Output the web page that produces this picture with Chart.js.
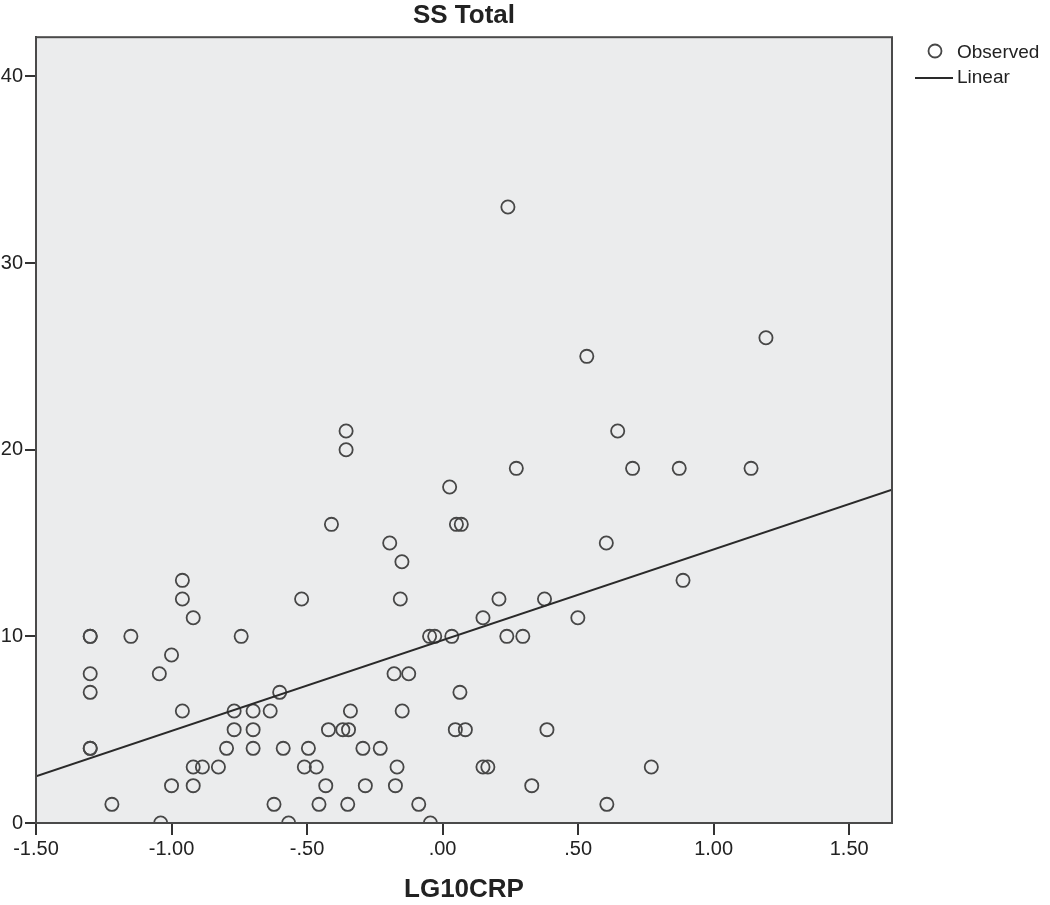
<!DOCTYPE html>
<html>
<head>
<meta charset="utf-8">
<script src="https://cdn.jsdelivr.net/npm/chart.js@4.4.1/dist/chart.umd.min.js"></script>
<style>
  html, body { margin: 0; padding: 0; background: #ffffff; }
  #wrap { width: 1050px; height: 905px; position: relative; }
</style>
</head>
<body>
<div id="wrap"><canvas id="c" width="1050" height="905"></canvas></div>
<script>
// ---- data ----
const chartTitle = 'SS Total';
const xAxisTitle = 'LG10CRP';
const obsX = [
  -1.30, -1.30, -1.30, -1.30, -1.30, -1.30,
  -1.22, -1.15, -1.045, -1.04, -1.00, -1.00,
  -0.96, -0.96, -0.96, -0.92, -0.92, -0.92,
  -0.886, -0.827, -0.797, -0.769, -0.769, -0.743,
  -0.699, -0.699, -0.699, -0.636, -0.622, -0.601,
  -0.588, -0.568, -0.52, -0.51, -0.495, -0.466,
  -0.456, -0.431, -0.421, -0.410, -0.368, -0.356,
  -0.356, -0.347, -0.35, -0.34, -0.294, -0.285,
  -0.230, -0.195, -0.179, -0.174, -0.168, -0.156,
  -0.150, -0.149, -0.125, -0.088, -0.048, -0.045,
  -0.029, 0.026, 0.034, 0.047, 0.051, 0.064,
  0.069, 0.084, 0.149, 0.149, 0.167, 0.208,
  0.237, 0.241, 0.272, 0.296, 0.329, 0.376,
  0.385, 0.499, 0.532, 0.604, 0.606, 0.646,
  0.701, 0.77, 0.873, 0.887, 1.138, 1.193
];
const obsY = [
  10, 10, 8, 7, 4, 4,
  1, 10, 8, 0, 9, 2,
  13, 12, 6, 11, 3, 2,
  3, 3, 4, 6, 5, 10,
  6, 5, 4, 6, 1, 7,
  4, 0, 12, 3, 4, 3,
  1, 2, 5, 16, 5, 21,
  20, 5, 1, 6, 4, 2,
  4, 15, 8, 2, 3, 12,
  14, 6, 8, 1, 10, 0,
  10, 18, 10, 5, 16, 7,
  16, 5, 11, 3, 3, 12,
  10, 33, 19, 10, 2, 12,
  5, 11, 25, 15, 1, 21,
  19, 3, 19, 13, 19, 26
];
// fitted line end points
const linearX = [-1.5, 1.658];
const linearY = [2.50, 17.86];
// axes
const xTickValues = [-1.5, -1.0, -0.5, 0, 0.5, 1.0, 1.5];
const xTickLabels = ['-1.50', '-1.00', '-.50', '.00', '.50', '1.00', '1.50'];
const yTickValues = [0, 10, 20, 30, 40];
const yTickLabels = ['0', '10', '20', '30', '40'];
const xRange = [-1.5, 1.658];
const yRange = [0, 42.1];
const legendLabels = ['Observed', 'Linear'];

// ---- styling ----
const FONT = '"Liberation Sans", Arial, sans-serif';
const INK = '#222222';
const MARK = '#474747';
const PLOT_BG = '#ebeced';

const frameAndBg = {
  id: 'frameAndBg',
  beforeDatasetsDraw(chart) {
    const {ctx, chartArea: a} = chart;
    ctx.save();
    ctx.fillStyle = PLOT_BG;
    ctx.fillRect(a.left, a.top, a.right - a.left, a.bottom - a.top);
    ctx.restore();
  },
  afterDatasetsDraw(chart) {
    const {ctx, chartArea: a} = chart;
    ctx.save();
    ctx.strokeStyle = '#4a4a4a';
    ctx.lineWidth = 2;
    ctx.strokeRect(a.left, a.top, a.right - a.left, a.bottom - a.top);
    ctx.restore();
  }
};

const customLegend = {
  id: 'customLegend',
  afterDraw(chart) {
    const ctx = chart.ctx;
    ctx.save();
    ctx.font = '19px ' + FONT;
    ctx.fillStyle = INK;
    ctx.textBaseline = 'middle';
    ctx.textAlign = 'left';
    // Observed marker
    ctx.beginPath();
    ctx.arc(935, 51, 6.5, 0, Math.PI * 2);
    ctx.strokeStyle = MARK;
    ctx.lineWidth = 1.8;
    ctx.stroke();
    ctx.fillText(legendLabels[0], 957, 53);
    // Linear marker
    ctx.beginPath();
    ctx.moveTo(915, 78);
    ctx.lineTo(953, 78);
    ctx.strokeStyle = '#2a2a2a';
    ctx.lineWidth = 2;
    ctx.stroke();
    ctx.fillText(legendLabels[1], 957, 78);
    ctx.restore();
  }
};

const ctx = document.getElementById('c').getContext('2d');
new Chart(ctx, {
  type: 'scatter',
  data: {
    datasets: [
      {
        label: legendLabels[0],
        data: obsX.map((x, i) => ({x: x, y: obsY[i]})),
        pointStyle: 'circle',
        pointRadius: 6.6,
        pointBorderWidth: 1.8,
        pointBorderColor: MARK,
        pointBackgroundColor: 'rgba(0,0,0,0)',
        pointHoverRadius: 6.6,
        clip: 0,
        order: 2
      },
      {
        type: 'line',
        label: legendLabels[1],
        data: linearX.map((x, i) => ({x: x, y: linearY[i]})),
        borderColor: '#2a2a2a',
        borderWidth: 2,
        pointRadius: 0,
        fill: false,
        clip: 0,
        order: 1
      }
    ]
  },
  options: {
    responsive: false,
    animation: false,
    devicePixelRatio: 1,
    layout: { padding: { left: 0, right: 158, top: 0, bottom: 0 } },
    plugins: {
      legend: { display: false },
      tooltip: { enabled: false },
      title: {
        display: true,
        fullSize: false,
        text: chartTitle,
        color: INK,
        font: { family: FONT, size: 26, weight: 'bold' },
        padding: { top: 0, bottom: 6 }
      }
    },
    scales: {
      x: {
        type: 'linear',
        min: xRange[0],
        max: xRange[1],
        afterBuildTicks(scale) { scale.ticks = xTickValues.map(v => ({value: v})); },
        afterFit(scale) { scale.height = 82; },
        ticks: {
          color: INK,
          font: { family: FONT, size: 20 },
          padding: 2,
          maxRotation: 0,
          autoSkip: false,
          callback(v) { const i = xTickValues.indexOf(v); return i >= 0 ? xTickLabels[i] : ''; }
        },
        grid: { display: true, drawOnChartArea: false, drawTicks: true, tickLength: 12, color: '#333', lineWidth: 2 },
        border: { display: true, color: '#333', width: 2 },
        title: {
          display: true,
          text: xAxisTitle,
          color: INK,
          font: { family: FONT, size: 26, weight: 'bold' },
          padding: { top: 10, bottom: 0 }
        }
      },
      y: {
        type: 'linear',
        min: yRange[0],
        max: yRange[1],
        afterBuildTicks(scale) { scale.ticks = yTickValues.map(v => ({value: v})); },
        afterFit(scale) { scale.width = 36; },
        ticks: {
          color: INK,
          font: { family: FONT, size: 20 },
          padding: 2,
          autoSkip: false,
          callback(v) { const i = yTickValues.indexOf(v); return i >= 0 ? yTickLabels[i] : ''; }
        },
        grid: { display: true, drawOnChartArea: false, drawTicks: true, tickLength: 11, color: '#333', lineWidth: 2 },
        border: { display: true, color: '#333', width: 2 }
      }
    }
  },
  plugins: [frameAndBg, customLegend]
});
</script>
</body>
</html>
